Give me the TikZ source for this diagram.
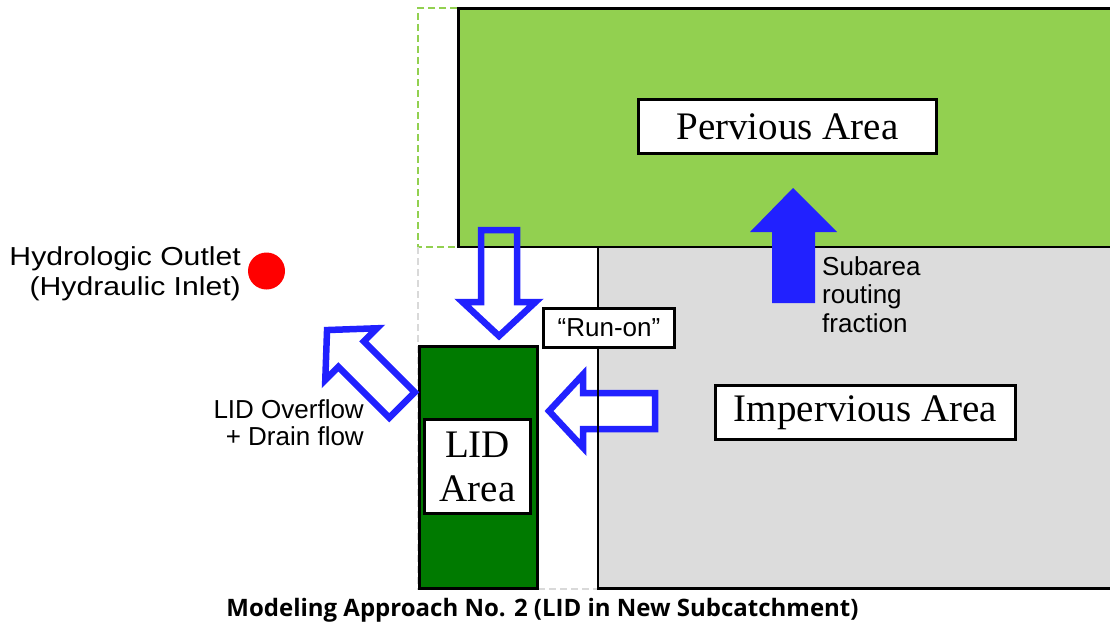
\documentclass[tikz,border=0pt]{standalone}
\usepackage{fontspec}
\setmainfont{Liberation Serif}
\setsansfont{Liberation Sans}
\newfontfamily\capfont{Open Sans}
\definecolor{pervgreen}{HTML}{92D050}
\definecolor{impgray}{HTML}{DCDCDC}
\definecolor{lidgreen}{HTML}{007A00}
\definecolor{flowblue}{HTML}{2121FF}
\definecolor{dashgray}{HTML}{D9D9D9}
\tikzset{
  border/.style={draw=black, line width=2.5pt},
  greendash/.style={draw=pervgreen, line width=2pt, dash pattern=on 7pt off 4pt},
  graydash/.style={draw=dashgray, line width=2pt, dash pattern=on 7pt off 4pt},
  labelbox/.style={draw=black, line width=3pt, fill=white, inner sep=0pt, font=\fontsize{39}{44}\selectfont},
  runbox/.style={draw=black, line width=3pt, fill=white, inner sep=0pt, font=\sffamily\fontsize{26}{30}\selectfont},
  sanslabel/.style={inner sep=0pt, font=\sffamily\fontsize{26}{30}\selectfont},
  hollow/.style={draw=flowblue, line width=6.5pt, miter limit=10},
  hollowarrow/.pic={
    \path[hollow, pic actions] (0,-18) -- (72,-18) -- (72,-36.5) -- (106,0) -- (72,36.5) -- (72,18) -- (0,18) -- cycle;
  }
}
\begin{document}
\begin{tikzpicture}[x=1pt,y=-1pt]
\useasboundingbox (0,0) rectangle (1110,626);
\clip (0,0) rectangle (1110,626);
% dashed outlines of the new subcatchment
\draw[greendash] (457,8) -- (418,8) -- (418,247) -- (457,247);
\draw[graydash] (418,247) -- (418,589) -- (597,589);
% areas
\draw[border, fill=pervgreen] (458.5,8.5) rectangle (1125,247);
\draw[border, fill=impgray] (598,247) rectangle (1125,588.5);
\draw[border, fill=lidgreen] (419.5,346.5) rectangle (537.5,588.5);
% area labels
\node[labelbox, minimum width=298, minimum height=54] (perv) at (787.5,126.5) {Pervious Area};
\node[labelbox, minimum width=300, minimum height=54] (imp) at (865.5,412.5) {Impervious Area};
\node[labelbox, minimum width=106, minimum height=94, align=center, font=\fontsize{39}{44}\selectfont] (lid) at (477.5,466.5) {LID\\Area};
\node[runbox, minimum width=131, minimum height=39] (runon) at (609,328) {“Run-on”};
% hollow flow arrows
\pic[rotate=-90] (down) at (499,230) {hollowarrow};
\pic[rotate=180, fill=white] (left) at (655,411) {hollowarrow};
\draw[black, line width=2.5pt] (598,349) -- (598,480);
\pic[rotate=135] (diag) at (402,405) {hollowarrow};
% subarea routing arrow
\fill[flowblue] (772,303) -- (772,232) -- (750,232) -- (793,188) -- (837,232) -- (815,232) -- (815,303) -- cycle;
\node[sanslabel, anchor=base west, align=left, font=\sffamily\fontsize{26}{28.5}\selectfont] (sub) at (822,332) {Subarea\\routing\\fraction};
% outlet
\fill[red] (266.5,271) circle[radius=18.5];
\node[sanslabel, anchor=base east, align=right] (outlet) at (241,295) {\scalebox{1.16}[1]{Hydrologic Outlet}\\\scalebox{1.16}[1]{(Hydraulic Inlet)}};
\node[sanslabel, anchor=base east, align=right, font=\sffamily\fontsize{26}{27}\selectfont] (over) at (364,445) {LID Overflow\\+ Drain flow};
% caption
\node[inner sep=0pt, anchor=base, font=\capfont\bfseries\fontsize{24}{28}\selectfont] (cap) at (542.5,616) {Modeling Approach No. 2 (LID in New Subcatchment)};
\end{tikzpicture}
\end{document}
